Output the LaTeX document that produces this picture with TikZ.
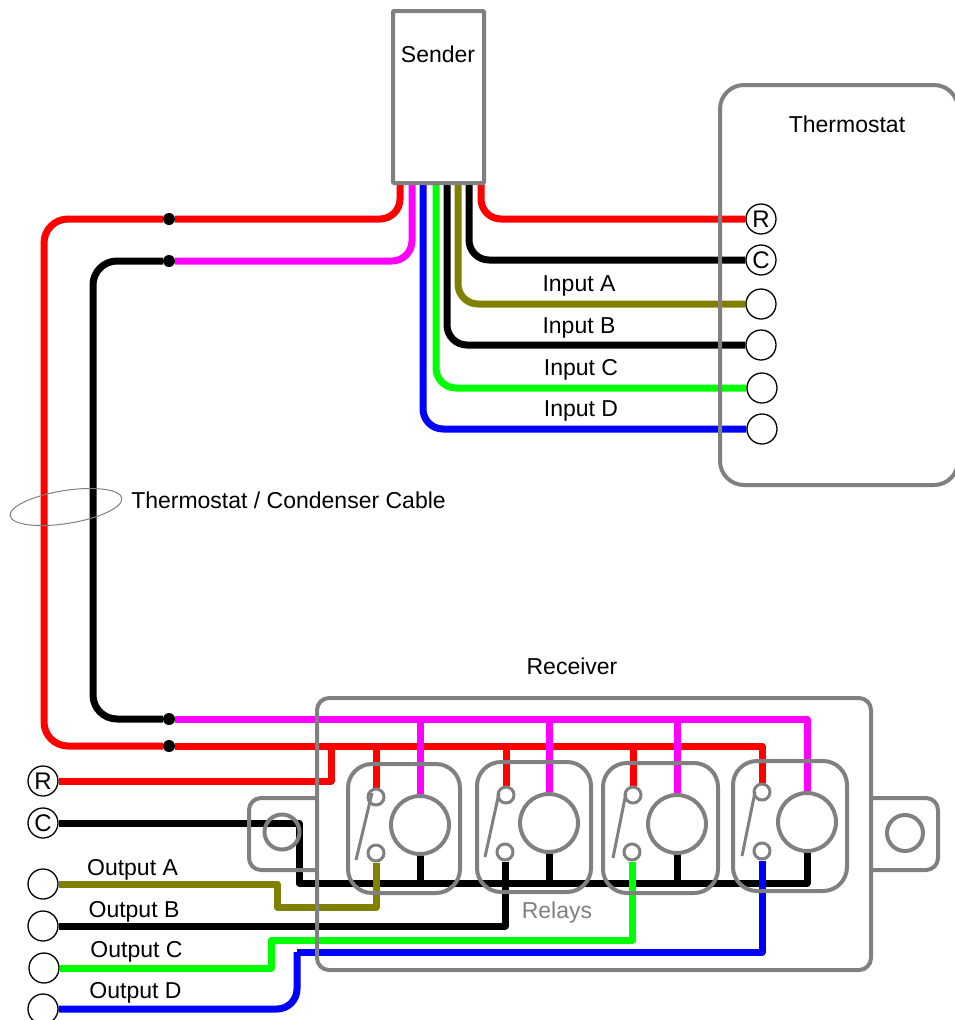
\documentclass[tikz,border=0pt]{standalone}
\usepackage{fontspec}
\setmainfont{Liberation Sans}
\usetikzlibrary{shapes,positioning,calc}
\pgfdeclarelayer{wires}
\pgfsetlayers{wires,main}
\definecolor{boxgrey}{RGB}{128,128,128}
\definecolor{olivewire}{RGB}{128,128,0}
\definecolor{greenwire}{RGB}{0,255,0}
\definecolor{magentawire}{RGB}{255,0,255}
\tikzstyle{Box} = [rectangle, rounded corners=12, draw=boxgrey, line width=4, inner sep=0]
\tikzstyle{Greyline} = [draw=boxgrey, line width=4, line join=round]
\tikzstyle{Coil} = [circle, draw=boxgrey, line width=4, fill=white, inner sep=0]
\tikzstyle{Terminal} = [circle, draw=black, line width=1.3, fill=white, inner sep=0, minimum size=30, font=\fontsize{24}{26}\selectfont]
\tikzstyle{Dot} = [circle, fill=black, inner sep=0, minimum size=12]
\tikzstyle{Label} = [inner sep=0, font=\fontsize{23}{25}\selectfont]
\tikzstyle{wire} = [line width=7, line join=round]

\begin{document}
\begin{tikzpicture}[x=1pt,y=-1pt]
\useasboundingbox (0,0) rectangle (954,1020);

\node (Sender)[Box, rounded corners=1, minimum width=91, minimum height=172] at (438.5,97){};
\node (Sender Label)[Label] at (438,54){Sender};
\node (Thermostat)[Box, rounded corners=24, minimum width=238, minimum height=400] at (839,285){};
\node (Thermostat Label)[Label] at (847,124){Thermostat};
\node (Receiver)[Box, minimum width=554, minimum height=272] at (594,834){};
\node (Receiver Label)[Label] at (572,666){Receiver};
\node (Relays Label)[Label, text=boxgrey] at (557,913){Relays};

% thermostat terminals
\node (T R)[Terminal] at (761,219){R};
\node (T C)[Terminal] at (761,260){C};
\node (T A)[Terminal] at (761,304){};
\node (T B)[Terminal] at (761,345){};
\node (T C2)[Terminal] at (762,388){};
\node (T D)[Terminal] at (762,429){};
\node (Input A)[Label] at (579,286){Input A};
\node (Input B)[Label] at (579,328){Input B};
\node (Input C)[Label] at (581,370){Input C};
\node (Input D)[Label] at (581,411){Input D};

% output terminals
\node (O R)[Terminal] at (43,781){R};
\node (O C)[Terminal] at (43,823){C};
\node (O A)[Terminal] at (43,884){};
\node (O B)[Terminal] at (43,926){};
\node (O C2)[Terminal] at (44,968){};
\node (O D)[Terminal] at (43,1009){};
\node (Output A)[Label] at (132.5,870){Output A};
\node (Output B)[Label] at (134,912){Output B};
\node (Output C)[Label] at (136.5,952){Output C};
\node (Output D)[Label] at (135.5,993){Output D};

% cable
\node (Cable)[ellipse, draw=boxgrey, line width=1, rotate=9, minimum width=113, minimum height=33, inner sep=0] at (66,507){};
\node (Cable Label)[Label] at (288.5,500){Thermostat / Condenser Cable};
\node (Dot A)[Dot] at (169,219){};
\node (Dot B)[Dot] at (169,261){};
\node (Dot C)[Dot] at (169,719){};
\node (Dot D)[Dot] at (169,746){};

% mounting tabs
\node (Left Hole)[Coil, fill=none, minimum size=35] at (282,832){};
\node (Right Hole)[Coil, fill=none, minimum size=36] at (905,833){};
\coordinate (L1) at (317,798);
\coordinate (L2) at (317,870);
\coordinate (R1) at (871,798);
\coordinate (R2) at (871,870);
\draw[Greyline, rounded corners=12] (L1) -- (249,798) -- (249,870) -- (L2);
\draw[Greyline, rounded corners=12] (R1) -- (938,798) -- (938,870) -- (R2);

% relays
\foreach \n/\xl/\xr/\yt/\yb/\cx/\cy/\tx/\ty/\bx/\by/\ax/\ay/\ex/\ey in {
1/348/460/764/893/420/825/376/797/376/853/372/793/356/860,
2/477/591/762/892/549/823/506/795/505/852/499/793/485/857,
3/603/718/763/893/677/824/633/795/632/852/626/793/613/858,
4/733/847/761/891/807/822/762/792/762/851/755/792/742/856}{
\node (Relay \n)[Box, rounded corners=24, minimum width={\xr-\xl}, minimum height={\yb-\yt}] at ({(\xl+\xr)/2},{(\yt+\yb)/2}){};
\node (Coil \n)[Coil, minimum size=58] at (\cx,\cy){};
\node (Top \n)[Coil, line width=3, minimum size=16] at (\tx,\ty){};
\node (Bottom \n)[Coil, line width=3, minimum size=16] at (\bx,\by){};
\coordinate (Arm \n) at (\ax,\ay);
\coordinate (End \n) at (\ex,\ey);
\draw[Greyline, line width=3] (Arm \n)--(End \n);
}

\coordinate (Bus Start) at (299,883);
\coordinate (Left Red) at (44,480);
\coordinate (Left Black) at (93,490);
\coordinate (Red Tap) at (331,746);
\coordinate (Olive A) at (277,907);
\coordinate (Green A) at (271,940);
\coordinate (Blue A) at (297,952);

\begin{pgfonlayer}{wires}
% sender wires
\foreach \n/\x in {1/400,2/412,3/423,4/436,5/447,6/458,7/469,8/481}{
\coordinate (S\n) at (\x,183);
}
\draw[wire, red, rounded corners=20](S1)|-(Dot A);
\draw[wire, magentawire, rounded corners=20](S2)|-(Dot B);
\draw[wire, blue, rounded corners=20](S3)|-(T D);
\draw[wire, greenwire, rounded corners=20](S4)|-(T C2);
\draw[wire, black, rounded corners=20](S5)|-(T B);
\draw[wire, olivewire, rounded corners=20](S6)|-(T A);
\draw[wire, black, rounded corners=20](S7)|-(T C);
\draw[wire, red, rounded corners=20](S8)|-(T R);

% cable run
\draw[wire, red, rounded corners=24](Dot A)-|(Left Red)|-(Dot D);
\draw[wire, black, rounded corners=24](Dot B)-|(Left Black)|-(Dot C);

% receiver buses
\draw[wire, red](Dot D)-|(Top 4);
\draw[wire, magentawire](Dot C)-|(Coil 4);
\foreach \n in {1,2,3}{
\draw[wire, red](Top \n |- Dot D)--(Top \n);
\draw[wire, magentawire](Coil \n |- Dot C)--(Coil \n);
}
\draw[wire, black](O C)-|(Bus Start)-|(Coil 4);
\foreach \n in {1,2,3}{
\draw[wire, black](Coil \n |- Bus Start)--(Coil \n);
}

% outputs
\draw[wire, red](O R)-|(Red Tap);
\draw[wire, olivewire](O A)-|(Olive A)-|(Bottom 1);
\draw[wire, black](O B)-|(Bottom 2);
\draw[wire, greenwire](O C2)-|(Green A)-|(Bottom 3);
\draw[wire, blue, rounded corners=20](O D)-|(Blue A);
\draw[wire, blue](Blue A)-|(Bottom 4);
\end{pgfonlayer}

\end{tikzpicture}
\end{document}
